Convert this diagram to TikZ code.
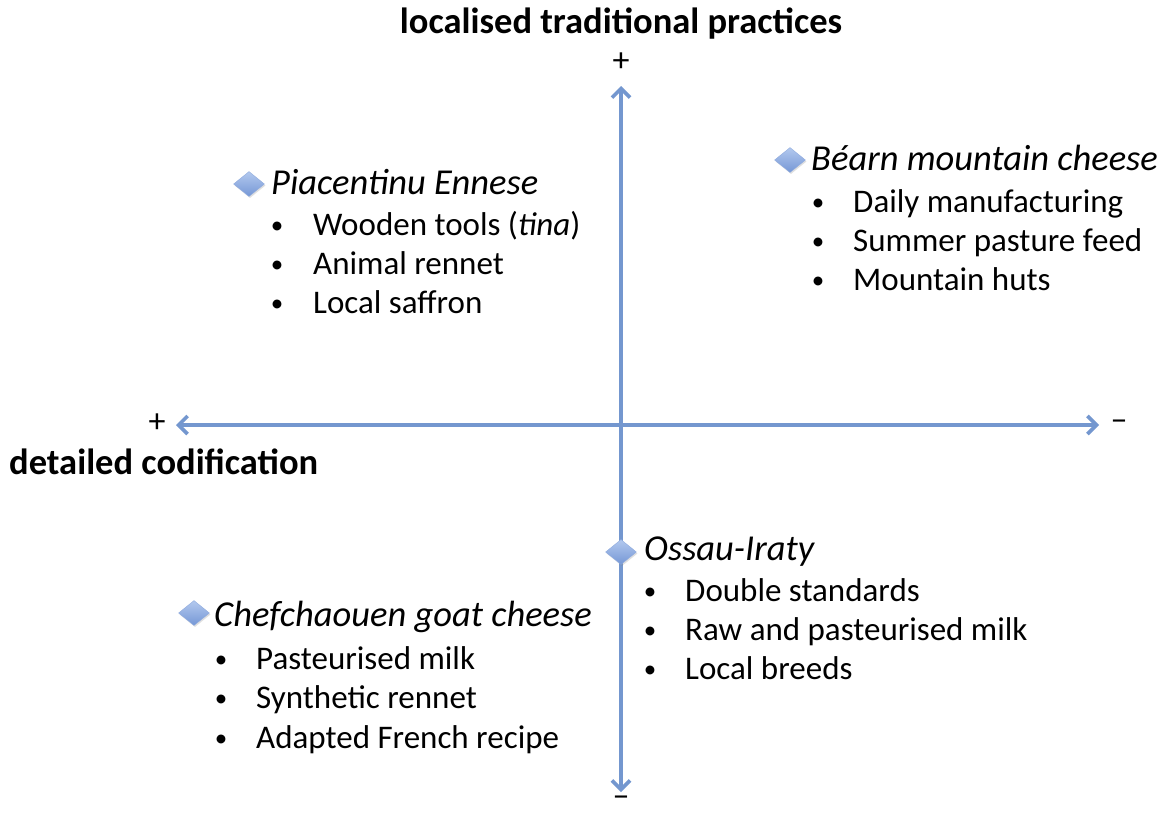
\documentclass[tikz,border=0pt]{standalone}
\usepackage{fontspec}
\setmainfont{Carlito}
\usetikzlibrary{arrows.meta,shapes.geometric,shadows}
\definecolor{axisblue}{HTML}{7497CF}
\definecolor{dtop}{HTML}{B3C9EE}
\definecolor{dbot}{HTML}{7597D6}
\newcommand{\txtsize}{\fontsize{33}{39}\selectfont}
\newcommand{\bigsize}{\fontsize{36.5}{42}\selectfont}
\newcommand{\signsize}{\fontsize{34}{38}\selectfont}
\tikzset{
  axis/.style={draw=axisblue, line width=3.6pt, {Straight Barb[length=9pt,width=18pt,line width=3.6pt]}-{Straight Barb[length=9pt,width=18pt,line width=3.6pt]}},
  lbl/.style={anchor=west, inner sep=0pt, text height=0.7em, text depth=0.2em, font=\txtsize},
  ttl/.style={lbl, font=\bigsize\itshape},
  bul/.style={anchor=center, inner sep=0pt, font=\fontsize{25}{28}\selectfont},
  sign/.style={anchor=center, inner sep=0pt, font=\signsize},
  bold/.style={inner sep=0pt, font=\bigsize\bfseries},
  gem/.style={diamond, minimum width=31pt, minimum height=25pt, inner sep=0pt, top color=dtop, bottom color=dbot, draw=dbot!80!white, line width=0.4pt, drop shadow={opacity=0.25, shadow xshift=1pt, shadow yshift=-1.5pt}}
}
\begin{document}
\begin{tikzpicture}[x=1pt,y=-1pt]
\useasboundingbox (0,0) rectangle (1167,812);
% axes
\coordinate (top) at (621,86);
\coordinate (bot) at (621,792);
\coordinate (lft) at (176,425);
\coordinate (rgt) at (1099,425);
\draw[axis] (top) -- (bot);
\draw[axis] (lft) -- (rgt);
% axis labels
\node[bold, anchor=center] (ttop) at (621,24) {localised traditional practices};
\node[sign] (ptop) at (621,62) {+};
\node[sign] (mbot) at (621,801) {–};
\node[sign] (pleft) at (157,423) {+};
\node[sign] (mright) at (1119,425) {–};
\node[bold, anchor=west] (tleft) at (9,462) {detailed codification};
% Piacentinu
\node[gem] (d1) at (249,184) {};
\node[ttl] (t1) at (271,192) {Piacentinu Ennese};
\node[bul] (b11) at (277,228) {•}; \node[lbl] (l11) at (313,233) {Wooden tools (\textit{tina})};
\node[bul] (b12) at (277,267) {•}; \node[lbl] (l12) at (313,272) {Animal rennet};
\node[bul] (b13) at (277,306) {•}; \node[lbl] (l13) at (313,311) {Local saffron};
% Bearn
\node[gem] (d2) at (790,160) {};
\node[ttl] (t2) at (811,168) {Béarn mountain cheese};
\node[bul] (b21) at (818,205) {•}; \node[lbl] (l21) at (853,210) {Daily manufacturing};
\node[bul] (b22) at (818,244) {•}; \node[lbl] (l22) at (853,249) {Summer pasture feed};
\node[bul] (b23) at (818,283) {•}; \node[lbl] (l23) at (853,288) {Mountain huts};
% Ossau
\node[gem] (d3) at (621,552) {};
\node[ttl] (t3) at (644,558) {Ossau-Iraty};
\node[bul] (b31) at (650,594) {•}; \node[lbl] (l31) at (685,599) {Double standards};
\node[bul] (b32) at (650,633) {•}; \node[lbl] (l32) at (685,638) {Raw and pasteurised milk};
\node[bul] (b33) at (650,672) {•}; \node[lbl] (l33) at (685,677) {Local breeds};
% Chefchaouen
\node[gem] (d4) at (194,613) {};
\node[ttl] (t4) at (214,624) {Chefchaouen goat cheese};
\node[bul] (b41) at (221,662) {•}; \node[lbl] (l41) at (256,667) {Pasteurised milk};
\node[bul] (b42) at (221,701) {•}; \node[lbl] (l42) at (256,706) {Synthetic rennet};
\node[bul] (b43) at (221,741) {•}; \node[lbl] (l43) at (256,746) {Adapted French recipe};
\end{tikzpicture}
\end{document}
